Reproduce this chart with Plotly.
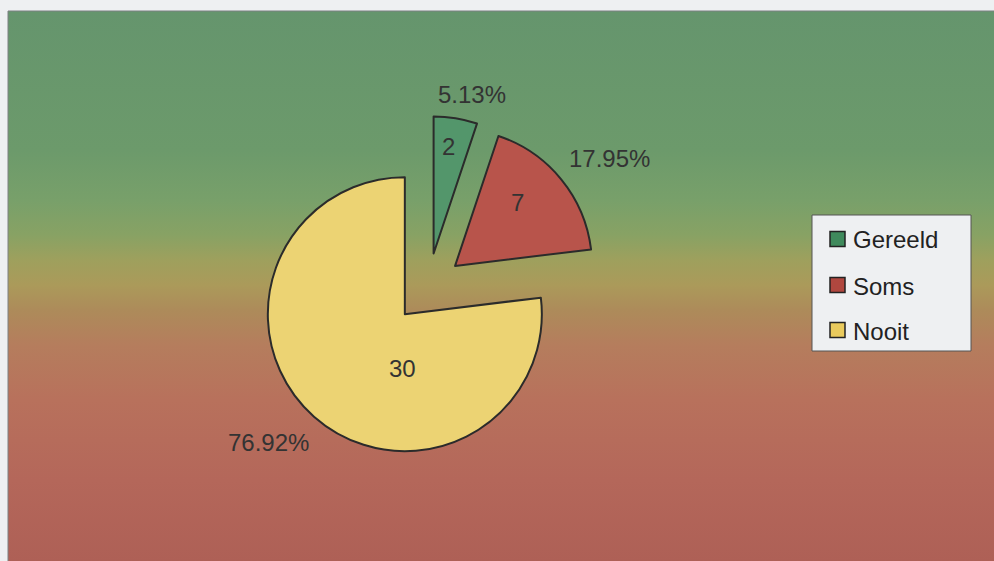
import plotly.graph_objects as go

# Survey answers and their counts
labels = ["Gereeld", "Soms", "Nooit"]
values = [2, 7, 30]

slice_colors = ["#53966b", "#b8544b", "#ecd373"]
legend_colors = ["#3f8a5c", "#b0473f", "#e9ca5c"]

W, H = 994, 561
FONT = "Arial, 'Liberation Sans', sans-serif"
TEXT_COLOR = "#333333"

total = sum(values)
pct_labels = [f"{v / total * 100:.2f}%" for v in values]


def px(x):
    return x / W


def py(y):
    return 1 - y / H


# Pie placement (pixel centre of the unexploded pie, radius, explode fraction)
cx, cy, rad, pull = 428, 288, 137, 0.255
half = rad * (1 + pull)
dom_x = [(cx - half) / W, (cx + half) / W]
dom_y = [(H - cy - half) / H, (H - cy + half) / H]

# Panel gradient: green at the top, through olive/yellow, to brick red at the bottom
panel_top, panel_left = 11, 8
grad_stops = [
    (11, "#65956d"),
    (150, "#6c9a6b"),
    (200, "#78a06a"),
    (235, "#88a264"),
    (260, "#9ea05d"),
    (285, "#ab9a5a"),
    (310, "#ad8b5a"),
    (345, "#b57d5d"),
    (400, "#b8715c"),
    (480, "#b4675a"),
    (561, "#ae6056"),
]
span = H - panel_top
colorscale = sorted(((H - s) / span, c) for s, c in grad_stops)

fig = go.Figure()

fig.add_trace(
    go.Scatter(
        x=[panel_left, W, W, panel_left, panel_left],
        y=[0, 0, H - panel_top, H - panel_top, 0],
        mode="lines",
        line=dict(width=0),
        fill="toself",
        fillgradient=dict(type="vertical", colorscale=colorscale, start=0, stop=H - panel_top),
        hoverinfo="skip",
        showlegend=False,
    )
)

fig.add_trace(
    go.Pie(
        labels=labels,
        values=values,
        sort=False,
        direction="clockwise",
        rotation=0,
        pull=[pull] * len(values),
        marker=dict(colors=slice_colors, line=dict(color="#2b2b2b", width=2)),
        textinfo="none",
        hoverinfo="label+value+percent",
        showlegend=False,
        domain=dict(x=dom_x, y=dom_y),
    )
)

annotations = []

# value labels inside the slices
value_pos = [(448, 147), (517, 203), (402, 368)]
for v, (x, y) in zip(values, value_pos):
    annotations.append(dict(
        x=px(x), y=py(y), xref="paper", yref="paper", text=str(v), showarrow=False,
        xanchor="center", yanchor="middle", font=dict(family=FONT, size=24, color=TEXT_COLOR),
    ))

# percentage labels outside the slices
pct_pos = [(472, 94), (609, 158), (268, 442)]
for t, (x, y) in zip(pct_labels, pct_pos):
    annotations.append(dict(
        x=px(x), y=py(y), xref="paper", yref="paper", text=t, showarrow=False,
        xanchor="center", yanchor="middle", font=dict(family=FONT, size=24, color=TEXT_COLOR),
    ))

shapes = [
    # panel frame edges
    dict(type="line", xref="paper", yref="paper", x0=px(panel_left), x1=1,
         y0=py(panel_top), y1=py(panel_top), line=dict(color="#7d8082", width=1)),
    dict(type="line", xref="paper", yref="paper", x0=px(panel_left), x1=px(panel_left),
         y0=py(panel_top), y1=0, line=dict(color="#7d8082", width=1)),
    # legend box
    dict(type="rect", xref="paper", yref="paper", x0=px(812), x1=px(971), y0=py(215), y1=py(351),
         fillcolor="#eef0f2", line=dict(color="#555555", width=1)),
]

legend_rows = [239, 285, 330]
for name, col, yy in zip(labels, legend_colors, legend_rows):
    shapes.append(dict(
        type="rect", xref="paper", yref="paper",
        x0=px(830), x1=px(845), y0=py(yy - 7.5), y1=py(yy + 7.5),
        fillcolor=col, line=dict(color="#222222", width=1.5),
    ))
    annotations.append(dict(
        x=px(851), y=py(yy + 1), xref="paper", yref="paper", text=name, showarrow=False,
        xanchor="left", yanchor="middle", font=dict(family=FONT, size=24, color="#222222"),
    ))

fig.update_layout(
    width=W,
    height=H,
    margin=dict(l=0, r=0, t=0, b=0, pad=0),
    paper_bgcolor="#eef0f2",
    plot_bgcolor="rgba(0,0,0,0)",
    xaxis=dict(range=[0, W], visible=False, fixedrange=True, domain=[0, 1]),
    yaxis=dict(range=[0, H], visible=False, fixedrange=True, domain=[0, 1]),
    showlegend=False,
    annotations=annotations,
    shapes=shapes,
)

fig.write_html("out.html", config={"displayModeBar": False})
